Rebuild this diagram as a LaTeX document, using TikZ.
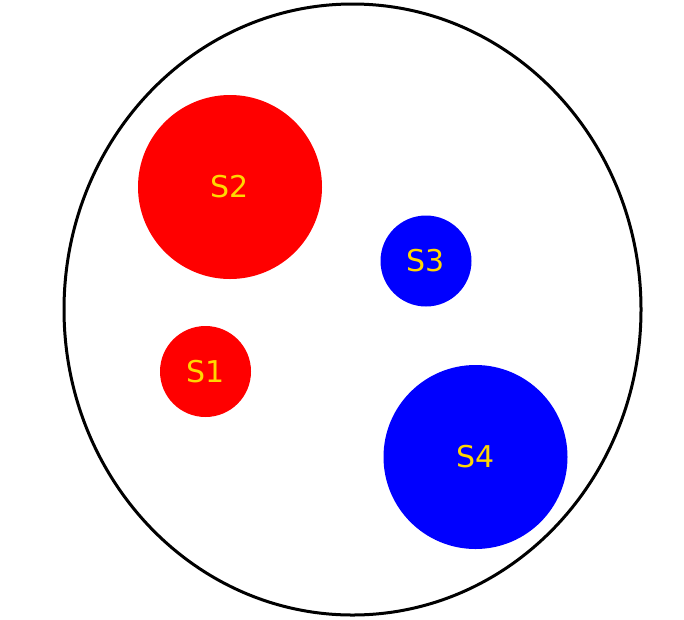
\documentclass[tikz,border=0pt]{standalone}
\usepackage{fontspec}
\setmainfont{DejaVu Sans}
\usetikzlibrary{shapes.geometric}
\definecolor{lbl}{RGB}{255,215,0}
\begin{document}
\begin{tikzpicture}[x=1pt,y=-1pt,
  ball/.style={circle,inner sep=0pt,text=lbl,font=\fontsize{30}{33}\selectfont},
  redball/.style={ball,fill=red},
  blueball/.style={ball,fill=blue}]
\useasboundingbox (0,0) rectangle (684,619);
\node[draw=black,line width=3pt,ellipse,inner sep=0pt,minimum width=577pt,minimum height=611pt] (outer) at (352.5,309.5) {};
\node[redball,minimum size=184pt] (s2) at (230,187) {S2};
\node[blueball,minimum size=91pt] (s3) at (426,261) {S3};
\node[redball,minimum size=91pt] (s1) at (205.5,371.5) {S1};
\node[blueball,minimum size=184pt] (s4) at (475.5,457) {S4};
\end{tikzpicture}
\end{document}
